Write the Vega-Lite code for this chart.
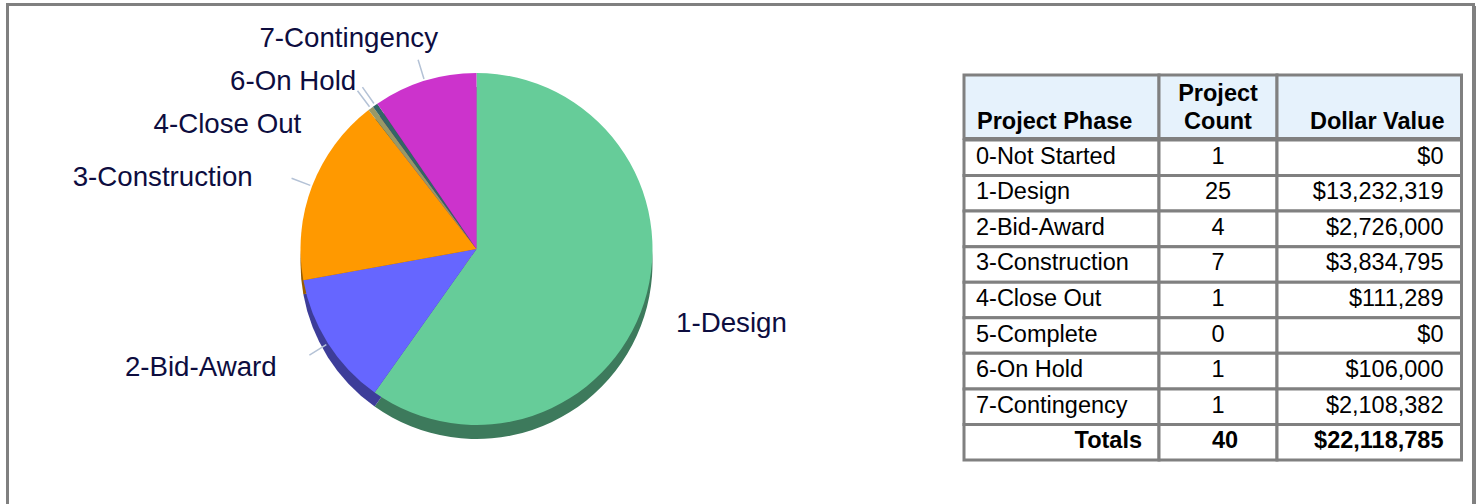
{
  "$schema": "https://vega.github.io/schema/vega-lite/v6.json",
  "background": "white",
  "padding": {"left": 6, "top": 3, "right": 0, "bottom": 0},
  "config": {
    "view": {"stroke": null},
    "font": "Liberation Sans",
    "text": {"font": "Liberation Sans"}
  },
  "datasets": {
    "table": [
      {"phase": "0-Not Started", "count": 1, "dollars": 0},
      {"phase": "1-Design", "count": 25, "dollars": 13232319},
      {"phase": "2-Bid-Award", "count": 4, "dollars": 2726000},
      {"phase": "3-Construction", "count": 7, "dollars": 3834795},
      {"phase": "4-Close Out", "count": 1, "dollars": 111289},
      {"phase": "5-Complete", "count": 0, "dollars": 0},
      {"phase": "6-On Hold", "count": 1, "dollars": 106000},
      {"phase": "7-Contingency", "count": 1, "dollars": 2108382},
      {"phase": "Totals", "count": 40, "dollars": 22118785}
    ]
  },
  "spacing": 0,
  "vconcat": [
    {
      "width": 1469, "height": 3,
      "view": {"fill": "#808080", "stroke": null},
      "data": {"values": []},
      "mark": "rect",
      "encoding": {}
    },
    {
      "spacing": 0,
      "hconcat": [
        {
          "width": 3, "height": 498,
          "view": {"fill": "#808080", "stroke": null},
          "data": {"values": []},
          "mark": "rect",
          "encoding": {}
        },
        {
          "width": 935, "height": 486,
          "data": {"name": "table"},
          "transform": [{"filter": "datum.phase !== 'Totals' && datum.dollars > 0"}],
          "encoding": {
            "theta": {"field": "dollars", "type": "quantitative", "stack": true},
            "order": {"field": "phase", "type": "ordinal", "sort": "ascending"}
          },
          "layer": [
            {
              "mark": {"type": "arc", "outerRadius": 176, "yOffset": 14},
              "encoding": {
                "color": {
                  "field": "phase", "type": "nominal", "legend": null,
                  "scale": {
                    "domain": ["1-Design", "2-Bid-Award", "3-Construction", "4-Close Out", "6-On Hold", "7-Contingency"],
                    "range": ["#3d7a5c", "#3d3d99", "#995c00", "#5c5c3d", "#1f3d3d", "#7a1f7a"]
                  }
                }
              }
            },
            {
              "mark": {"type": "arc", "outerRadius": 176},
              "encoding": {
                "fill": {
                  "field": "phase", "type": "nominal", "legend": null,
                  "scale": {
                    "domain": ["1-Design", "2-Bid-Award", "3-Construction", "4-Close Out", "6-On Hold", "7-Contingency"],
                    "range": ["#66cc99", "#6666ff", "#ff9900", "#999966", "#336666", "#cc33cc"]
                  }
                }
              }
            },
            {
              "mark": {"type": "arc", "innerRadius": 178, "outerRadius": 198, "padAngle": 3, "fillOpacity": 0, "stroke": "#b4c2d6", "strokeWidth": 1.5},
              "encoding": {
                "strokeOpacity": {"condition": {"test": "datum.phase === '1-Design'", "value": 0}, "value": 1}
              }
            },
            {
              "mark": {"type": "text", "radius": 200, "align": "left", "baseline": "alphabetic", "fontSize": 27.7, "color": "#0d0d3f", "dx": 9, "dy": 22},
              "encoding": {"text": {"condition": {"test": "datum.phase === '1-Design'", "field": "phase"}, "value": ""}}
            },
            {
              "mark": {"type": "text", "radius": 200, "align": "right", "baseline": "alphabetic", "fontSize": 27.7, "color": "#0d0d3f", "dx": -31, "dy": 20},
              "encoding": {"text": {"condition": {"test": "datum.phase === '2-Bid-Award'", "field": "phase"}, "value": ""}}
            },
            {
              "mark": {"type": "text", "radius": 200, "align": "right", "baseline": "alphabetic", "fontSize": 27.7, "color": "#0d0d3f", "dx": -37, "dy": 8.5},
              "encoding": {"text": {"condition": {"test": "datum.phase === '3-Construction'", "field": "phase"}, "value": ""}}
            },
            {
              "mark": {"type": "text", "radius": 200, "align": "right", "baseline": "alphabetic", "fontSize": 27.7, "color": "#0d0d3f", "dx": -55, "dy": 44},
              "encoding": {"text": {"condition": {"test": "datum.phase === '4-Close Out'", "field": "phase"}, "value": ""}}
            },
            {
              "mark": {"type": "text", "radius": 200, "align": "right", "baseline": "alphabetic", "fontSize": 27.7, "color": "#0d0d3f", "dx": -5, "dy": 4.5},
              "encoding": {"text": {"condition": {"test": "datum.phase === '6-On Hold'", "field": "phase"}, "value": ""}}
            },
            {
              "mark": {"type": "text", "radius": 200, "align": "right", "baseline": "alphabetic", "fontSize": 27.7, "color": "#0d0d3f", "dx": 20.5, "dy": -11},
              "encoding": {"text": {"condition": {"test": "datum.phase === '7-Contingency'", "field": "phase"}, "value": ""}}
            }
          ]
        },
        {
          "width": 18, "height": 1,
          "data": {"values": []},
          "mark": "rect",
          "encoding": {}
        },
        {
          "spacing": -3,
          "vconcat": [
            {
              "width": 497.5, "height": 69,
              "data": {"values": []},
              "mark": "rect",
              "encoding": {}
            },
            {
              "spacing": 0,
              "bounds": "flush",
              "hconcat": [
                {
                  "width": 195, "height": 63.5,
                  "view": {"fill": "#e6f2fc", "stroke": "#808080", "strokeWidth": 3},
                  "data": {"values": [{"title": "Project Phase"}]},
                  "mark": {"type": "text", "align": "left", "baseline": "alphabetic", "fontWeight": "bold", "fontSize": 23.5, "color": "black", "dx": 13, "dy": -9.5},
                  "encoding": {
                    "text": {"field": "title"},
                    "x": {"datum": 0, "type": "quantitative", "scale": {"domain": [0, 1]}, "axis": null},
                    "y": {"datum": 0, "type": "quantitative", "scale": {"domain": [0, 1]}, "axis": null}
                  }
                },
                {
                  "width": 118, "height": 63.5,
                  "view": {"fill": "#e6f2fc", "stroke": "#808080", "strokeWidth": 3},
                  "data": {"values": [{"title": "Project\nCount"}]},
                  "mark": {"type": "text", "align": "center", "baseline": "alphabetic", "fontWeight": "bold", "fontSize": 23.5, "color": "black", "lineBreak": "\n", "lineHeight": 28, "dy": -37.5},
                  "encoding": {
                    "text": {"field": "title"},
                    "x": {"datum": 0.5, "type": "quantitative", "scale": {"domain": [0, 1]}, "axis": null},
                    "y": {"datum": 0, "type": "quantitative", "scale": {"domain": [0, 1]}, "axis": null}
                  }
                },
                {
                  "width": 184.5, "height": 63.5,
                  "view": {"fill": "#e6f2fc", "stroke": "#808080", "strokeWidth": 3},
                  "data": {"values": [{"title": "Dollar Value"}]},
                  "mark": {"type": "text", "align": "right", "baseline": "alphabetic", "fontWeight": "bold", "fontSize": 23.5, "color": "black", "dx": -17, "dy": -9.5},
                  "encoding": {
                    "text": {"field": "title"},
                    "x": {"datum": 1, "type": "quantitative", "scale": {"domain": [0, 1]}, "axis": null},
                    "y": {"datum": 0, "type": "quantitative", "scale": {"domain": [0, 1]}, "axis": null}
                  }
                }
              ]
            },
            {
              "spacing": 0,
              "bounds": "flush",
              "hconcat": [
                {
                  "width": 195, "height": 320,
                  "data": {"name": "table"},
                  "encoding": {
                    "y": {"field": "phase", "type": "nominal", "axis": null,
                      "scale": {"domain": ["0-Not Started", "1-Design", "2-Bid-Award", "3-Construction", "4-Close Out", "5-Complete", "6-On Hold", "7-Contingency", "Totals"], "paddingInner": 0, "paddingOuter": 0}}
                  },
                  "layer": [
                    {"mark": {"type": "rect", "fill": "white", "stroke": "#808080", "strokeWidth": 3}},
                    {
                      "transform": [{"filter": "datum.phase !== 'Totals'"}],
                      "mark": {"type": "text", "align": "left", "baseline": "alphabetic", "fontSize": 23.5, "color": "black", "dx": 12, "dy": 6},
                      "encoding": {
                        "text": {"field": "phase"},
                        "x": {"datum": 0, "type": "quantitative", "scale": {"domain": [0, 1]}, "axis": null}
                      }
                    },
                    {
                      "transform": [{"filter": "datum.phase === 'Totals'"}],
                      "mark": {"type": "text", "align": "right", "baseline": "alphabetic", "fontSize": 23.5, "fontWeight": "bold", "color": "black", "dx": -17, "dy": 6},
                      "encoding": {
                        "text": {"field": "phase"},
                        "x": {"datum": 1, "type": "quantitative", "scale": {"domain": [0, 1]}, "axis": null}
                      }
                    }
                  ]
                },
                {
                  "width": 118, "height": 320,
                  "data": {"name": "table"},
                  "encoding": {
                    "y": {"field": "phase", "type": "nominal", "axis": null,
                      "scale": {"domain": ["0-Not Started", "1-Design", "2-Bid-Award", "3-Construction", "4-Close Out", "5-Complete", "6-On Hold", "7-Contingency", "Totals"], "paddingInner": 0, "paddingOuter": 0}}
                  },
                  "layer": [
                    {"mark": {"type": "rect", "fill": "white", "stroke": "#808080", "strokeWidth": 3}},
                    {
                      "transform": [{"filter": "datum.phase !== 'Totals'"}],
                      "mark": {"type": "text", "align": "center", "baseline": "alphabetic", "fontSize": 23.5, "color": "black", "dy": 6},
                      "encoding": {
                        "text": {"field": "count", "type": "quantitative"},
                        "x": {"datum": 0.5, "type": "quantitative", "scale": {"domain": [0, 1]}, "axis": null}
                      }
                    },
                    {
                      "transform": [{"filter": "datum.phase === 'Totals'"}],
                      "mark": {"type": "text", "align": "center", "baseline": "alphabetic", "fontSize": 23.5, "fontWeight": "bold", "color": "black", "dx": 7, "dy": 6},
                      "encoding": {
                        "text": {"field": "count", "type": "quantitative"},
                        "x": {"datum": 0.5, "type": "quantitative", "scale": {"domain": [0, 1]}, "axis": null}
                      }
                    }
                  ]
                },
                {
                  "width": 184.5, "height": 320,
                  "data": {"name": "table"},
                  "encoding": {
                    "y": {"field": "phase", "type": "nominal", "axis": null,
                      "scale": {"domain": ["0-Not Started", "1-Design", "2-Bid-Award", "3-Construction", "4-Close Out", "5-Complete", "6-On Hold", "7-Contingency", "Totals"], "paddingInner": 0, "paddingOuter": 0}}
                  },
                  "layer": [
                    {"mark": {"type": "rect", "fill": "white", "stroke": "#808080", "strokeWidth": 3}},
                    {
                      "transform": [{"filter": "datum.phase !== 'Totals'"}],
                      "mark": {"type": "text", "align": "right", "baseline": "alphabetic", "fontSize": 23.5, "color": "black", "dx": -18, "dy": 6},
                      "encoding": {
                        "text": {"field": "dollars", "type": "quantitative", "format": "$,d"},
                        "x": {"datum": 1, "type": "quantitative", "scale": {"domain": [0, 1]}, "axis": null}
                      }
                    },
                    {
                      "transform": [{"filter": "datum.phase === 'Totals'"}],
                      "mark": {"type": "text", "align": "right", "baseline": "alphabetic", "fontSize": 23.5, "fontWeight": "bold", "color": "black", "dx": -18, "dy": 6},
                      "encoding": {
                        "text": {"field": "dollars", "type": "quantitative", "format": "$,d"},
                        "x": {"datum": 1, "type": "quantitative", "scale": {"domain": [0, 1]}, "axis": null}
                      }
                    }
                  ]
                }
              ]
            }
          ]
        },
        {
          "width": 8.5, "height": 1,
          "data": {"values": []},
          "mark": "rect",
          "encoding": {}
        },
        {
          "width": 4, "height": 498,
          "view": {"fill": "#808080", "stroke": null},
          "data": {"values": []},
          "mark": "rect",
          "encoding": {}
        }
      ]
    }
  ]
}
